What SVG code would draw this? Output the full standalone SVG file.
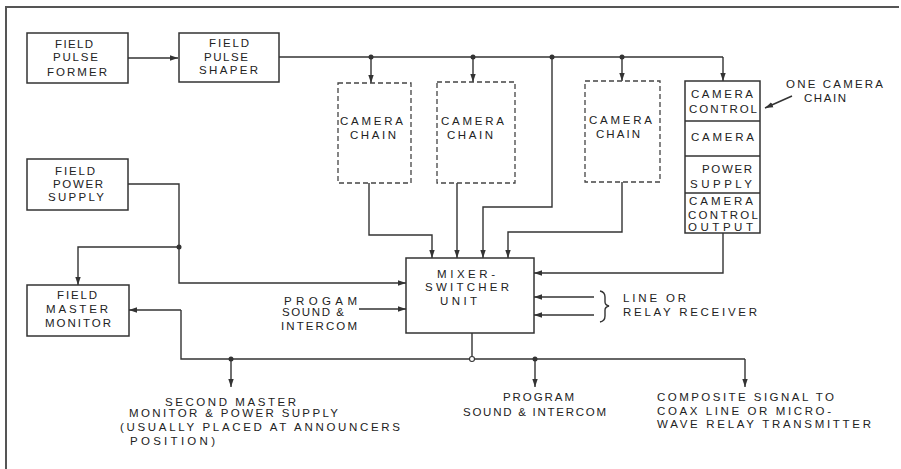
<svg xmlns="http://www.w3.org/2000/svg" width="901" height="469" viewBox="0 0 901 469">
<style>
.bg{fill:#ffffff}
.frame{fill:none;stroke:#555;stroke-width:2}
.box{fill:#fff;stroke:#333;stroke-width:1.5}
.dash{fill:#fff;stroke:#444;stroke-width:1.3;stroke-dasharray:5,3}
.ln{fill:none;stroke:#333;stroke-width:1.4}
.arr{marker-end:url(#ah)}
.dot{fill:#333}
text{font-family:"Liberation Sans",Arial,sans-serif;font-size:11.5px;fill:#222}
</style>
<defs>
<marker id="ah" markerUnits="userSpaceOnUse" markerWidth="9" markerHeight="7" refX="8" refY="3.5" orient="auto">
<path d="M0,0.8 L8,3.5 L0,6.2 z" fill="#333"/>
</marker>
</defs>
<rect class="bg" x="0" y="0" width="901" height="469"/>
<path class="frame" d="M6,469 L6,7 L899,7"/>

<g id="connectors">
<path class="ln arr" d="M128,58 L178,58"/>
<path class="ln" d="M279,57 L723,57"/>
<path class="ln arr" d="M723,57 L723,81"/>
<path class="ln arr" d="M371,57 L371,83"/>
<path class="ln arr" d="M473,57 L473,82"/>
<path class="ln arr" d="M622,57 L622,81"/>
<path class="ln arr" d="M552,57 L552,207 L483,207 L483,258"/>
<path class="ln arr" d="M369,183 L369,235 L432,235 L432,258"/>
<path class="ln arr" d="M457,183 L457,258"/>
<path class="ln arr" d="M622,182 L622,232 L508,232 L508,258"/>
<path class="ln arr" d="M723,233 L723,273 L534,273"/>
<path class="ln arr" d="M594,297 L534,297"/>
<path class="ln arr" d="M594,315 L534,315"/>
<path class="ln arr" d="M128,184 L179,184 L179,283 L406,283"/>
<path class="ln arr" d="M179,247 L78,247 L78,285"/>
<path class="ln arr" d="M359,309 L406,309"/>
<path class="ln arr" d="M181,310 L129,310"/>
<path class="ln" d="M181,310 L181,359 L469.5,359"/>
<path class="ln" d="M474.5,359 L745,359"/>
<path class="ln arr" d="M745,359 L745,387"/>
<path class="ln arr" d="M231,359 L231,387"/>
<path class="ln arr" d="M535,359 L535,387"/>
<path class="ln" d="M472,333 L472,356.5"/>
<circle cx="472" cy="359" r="2.5" fill="#fff" stroke="#333" stroke-width="1.1"/>
<path class="ln arr" d="M792,96 L765,108"/>
<path class="ln" d="M600,291 Q605,292 605,297 L605,302 Q605,305 609,306 Q605,307 605,310 L605,316 Q605,321 600,322"/>
<circle class="dot" cx="371" cy="57" r="2.5"/>
<circle class="dot" cx="473" cy="57" r="2.5"/>
<circle class="dot" cx="552" cy="57" r="2.5"/>
<circle class="dot" cx="622" cy="57" r="2.5"/>
<circle class="dot" cx="179" cy="247" r="2.5"/>
<circle class="dot" cx="231" cy="359" r="2.5"/>
<circle class="dot" cx="535" cy="359" r="2.5"/>
</g>

<g id="field-pulse-former">
<rect class="box" x="27" y="33" width="101" height="50"/>
<text x="55" y="48" textLength="38" lengthAdjust="spacing">FIELD</text>
<text x="53" y="61" textLength="45" lengthAdjust="spacing">PULSE</text>
<text x="47" y="76" textLength="60" lengthAdjust="spacing">FORMER</text>
</g>

<g id="field-pulse-shaper">
<rect class="box" x="179" y="33" width="100" height="49"/>
<text x="209" y="47" textLength="40" lengthAdjust="spacing">FIELD</text>
<text x="204" y="61" textLength="44" lengthAdjust="spacing">PULSE</text>
<text x="199" y="74" textLength="59" lengthAdjust="spacing">SHAPER</text>
</g>

<g id="camera-chain-1">
<rect class="dash" x="338" y="83" width="73" height="100"/>
<text x="340" y="125" textLength="63" lengthAdjust="spacing">CAMERA</text>
<text x="350" y="139" textLength="46" lengthAdjust="spacing">CHAIN</text>
</g>

<g id="camera-chain-2">
<rect class="dash" x="437" y="82" width="78" height="101"/>
<text x="441" y="125" textLength="63" lengthAdjust="spacing">CAMERA</text>
<text x="447" y="139" textLength="46" lengthAdjust="spacing">CHAIN</text>
</g>

<g id="camera-chain-3">
<rect class="dash" x="585" y="81" width="75" height="101"/>
<text x="589" y="124" textLength="63" lengthAdjust="spacing">CAMERA</text>
<text x="596" y="138" textLength="44" lengthAdjust="spacing">CHAIN</text>
</g>

<g id="one-camera-chain">
<rect class="box" x="685" y="81" width="75" height="152"/>
<path class="ln" d="M685,121 L760,121 M685,156 L760,156 M685,193 L760,193"/>
<text x="691" y="98" textLength="62" lengthAdjust="spacing">CAMERA</text>
<text x="689" y="113" textLength="68" lengthAdjust="spacing">CONTROL</text>
<text x="691" y="141" textLength="63" lengthAdjust="spacing">CAMERA</text>
<text x="702" y="173" textLength="50" lengthAdjust="spacing">POWER</text>
<text x="690" y="188" textLength="62" lengthAdjust="spacing">SUPPLY</text>
<text x="689" y="205" textLength="64" lengthAdjust="spacing">CAMERA</text>
<text x="688" y="219" textLength="70" lengthAdjust="spacing">CONTROL</text>
<text x="688" y="231" textLength="65" lengthAdjust="spacing">OUTPUT</text>
</g>

<g id="one-camera-chain-label">
<text x="786" y="88" textLength="97" lengthAdjust="spacing">ONE CAMERA</text>
<text x="804" y="102" textLength="42" lengthAdjust="spacing">CHAIN</text>
</g>

<g id="field-power-supply">
<rect class="box" x="27" y="159" width="101" height="51"/>
<text x="55" y="175" textLength="40" lengthAdjust="spacing">FIELD</text>
<text x="53" y="188" textLength="50" lengthAdjust="spacing">POWER</text>
<text x="48" y="201" textLength="56" lengthAdjust="spacing">SUPPLY</text>
</g>

<g id="field-master-monitor">
<rect class="box" x="27" y="285" width="102" height="51"/>
<text x="57" y="299" textLength="40" lengthAdjust="spacing">FIELD</text>
<text x="46" y="313" textLength="62" lengthAdjust="spacing">MASTER</text>
<text x="45" y="327" textLength="66" lengthAdjust="spacing">MONITOR</text>
</g>

<g id="mixer-switcher-unit">
<rect class="box" x="406" y="258" width="128" height="75"/>
<text x="437" y="278" textLength="58" lengthAdjust="spacing">MIXER-</text>
<text x="425" y="291" textLength="84" lengthAdjust="spacing">SWITCHER</text>
<text x="440" y="305" textLength="37" lengthAdjust="spacing">UNIT</text>
</g>

<g id="program-input-label">
<text x="284" y="305" textLength="73" lengthAdjust="spacing">PROGAM</text>
<text x="282" y="316" textLength="62" lengthAdjust="spacing">SOUND &amp;</text>
<text x="281" y="330" textLength="76" lengthAdjust="spacing">INTERCOM</text>
</g>

<g id="line-relay-receiver">
<text x="623" y="302" textLength="63" lengthAdjust="spacing">LINE OR</text>
<text x="623" y="316" textLength="134" lengthAdjust="spacing">RELAY RECEIVER</text>
</g>

<g id="second-master-monitor">
<text x="165" y="406" textLength="131" lengthAdjust="spacing">SECOND MASTER</text>
<text x="129" y="417" textLength="209" lengthAdjust="spacing">MONITOR &amp; POWER SUPPLY</text>
<text x="120" y="431" textLength="280" lengthAdjust="spacing">(USUALLY PLACED AT ANNOUNCERS</text>
<text x="130" y="445" textLength="85" lengthAdjust="spacing">POSITION)</text>
</g>

<g id="program-sound-intercom">
<text x="503" y="401" textLength="71" lengthAdjust="spacing">PROGRAM</text>
<text x="463" y="416" textLength="143" lengthAdjust="spacing">SOUND &amp; INTERCOM</text>
</g>

<g id="composite-signal">
<text x="657" y="401" textLength="177" lengthAdjust="spacing">COMPOSITE SIGNAL TO</text>
<text x="657" y="415" textLength="174" lengthAdjust="spacing">COAX LINE OR MICRO-</text>
<text x="657" y="428" textLength="214" lengthAdjust="spacing">WAVE RELAY TRANSMITTER</text>
</g>
</svg>
